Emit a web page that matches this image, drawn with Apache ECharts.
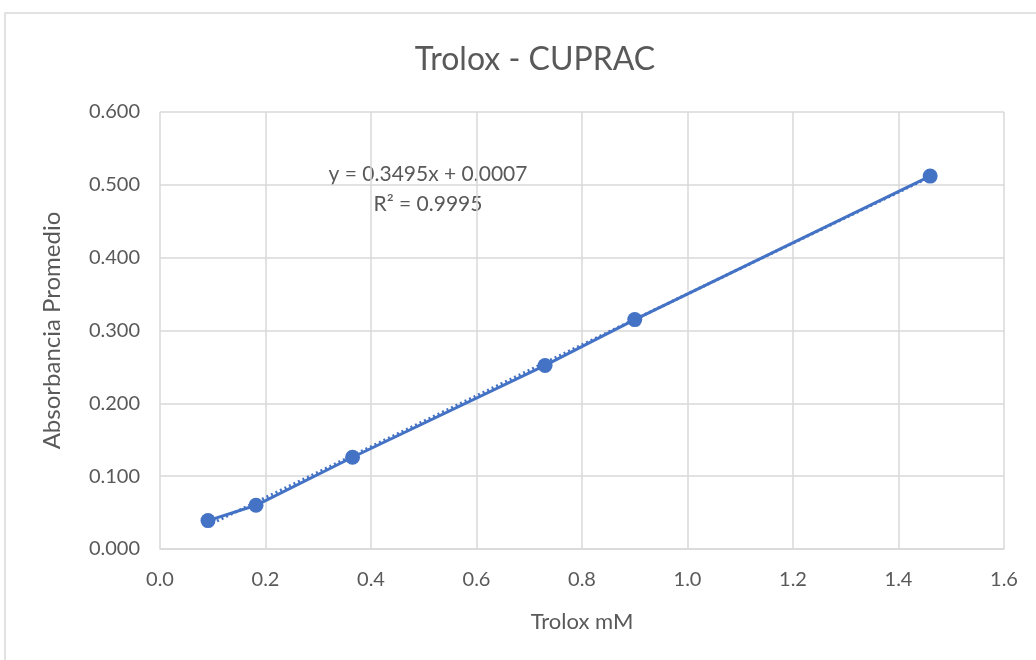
<!DOCTYPE html>
<html>
<head>
<meta charset="utf-8">
<script src="https://cdn.jsdelivr.net/npm/echarts@6/dist/echarts.min.js"></script>
<style>
  html, body { margin: 0; padding: 0; background: #fff; }
  #chart { width: 1036px; height: 660px; }
</style>
</head>
<body>
<div id="chart"></div>
<script>
// datos
const troloxMM = [0.091, 0.182, 0.365, 0.730, 0.900, 1.460];
const absorbancia = [0.039, 0.060, 0.126, 0.252, 0.315, 0.512];
const xTicks = [0.0, 0.2, 0.4, 0.6, 0.8, 1.0, 1.2, 1.4, 1.6];
const yTicks = [0.0, 0.1, 0.2, 0.3, 0.4, 0.5, 0.6];
// línea de tendencia (lineal)
const pendiente = 0.3495;
const intercepto = 0.0007;
const tendenciaX = [0.091, 1.460];
const ecuacion = ["y = 0.3495x + 0.0007", "R² = 0.9995"];

const azul = "#4472C4";
const gris = "#595959";
const fuente = "Lato, 'Open Sans', sans-serif";

const myChart = echarts.init(document.getElementById("chart"));
const option = {
  animation: false,
  backgroundColor: "#fff",
  textStyle: { fontFamily: fuente },
  title: {
    text: "Trolox - CUPRAC",
    left: 530,
    top: 39,
    textAlign: "center",
    textStyle: { fontSize: 32, fontWeight: "normal", color: gris, fontFamily: fuente },
  },
  grid: { left: 160, right: 32, top: 112, bottom: 111 },
  xAxis: {
    type: "value",
    min: xTicks[0],
    max: xTicks[xTicks.length - 1],
    interval: 0.2,
    name: "Trolox mM",
    nameLocation: "middle",
    nameGap: 62,
    nameTextStyle: { fontSize: 22, color: gris },
    axisLine: { show: true, lineStyle: { color: "#d9d9d9", width: 1.5 } },
    axisTick: { show: false },
    axisLabel: {
      fontSize: 20,
      color: gris,
      margin: 21,
      formatter: (v) => v.toFixed(1),
    },
    splitLine: { show: true, lineStyle: { color: "#d9d9d9", width: 1.5 } },
  },
  yAxis: {
    type: "value",
    min: yTicks[0],
    max: yTicks[yTicks.length - 1],
    interval: 0.1,
    name: "Absorbancia Promedio",
    nameLocation: "middle",
    nameGap: 96,
    nameTextStyle: { fontSize: 24, color: gris },
    axisLine: { show: false },
    axisTick: { show: false },
    axisLabel: {
      fontSize: 20,
      color: gris,
      margin: 20,
      formatter: (v) => v.toFixed(3),
    },
    splitLine: { show: true, lineStyle: { color: "#d9d9d9", width: 1.5 } },
  },
  graphic: [
    {
      type: "rect",
      shape: { x: 5, y: 13, width: 1040, height: 660 },
      style: { fill: "none", stroke: "#d9d9d9", lineWidth: 1.5 },
      silent: true,
    },
    {
      type: "text",
      x: 428,
      y: 174,
      style: {
        text: ecuacion[0], fontSize: 21, fill: gris, fontFamily: fuente,
        textAlign: "center", textVerticalAlign: "middle",
      },
    },
    {
      type: "text",
      x: 428,
      y: 204,
      style: {
        text: ecuacion[1], fontSize: 21, fill: gris, fontFamily: fuente,
        textAlign: "center", textVerticalAlign: "middle",
      },
    },
  ],
  series: [
    {
      name: "Tendencia",
      type: "line",
      data: tendenciaX.map((x) => [x, pendiente * x + intercepto]),
      showSymbol: false,
      lineStyle: { color: azul, width: 3, type: [2, 3] },
      z: 1,
    },
    {
      name: "Absorbancia",
      type: "line",
      data: troloxMM.map((x, i) => [x, absorbancia[i]]),
      symbol: "circle",
      symbolSize: 15,
      itemStyle: { color: azul },
      lineStyle: { color: azul, width: 3 },
      z: 2,
    },
  ],
};
myChart.setOption(option);
</script>
</body>
</html>
